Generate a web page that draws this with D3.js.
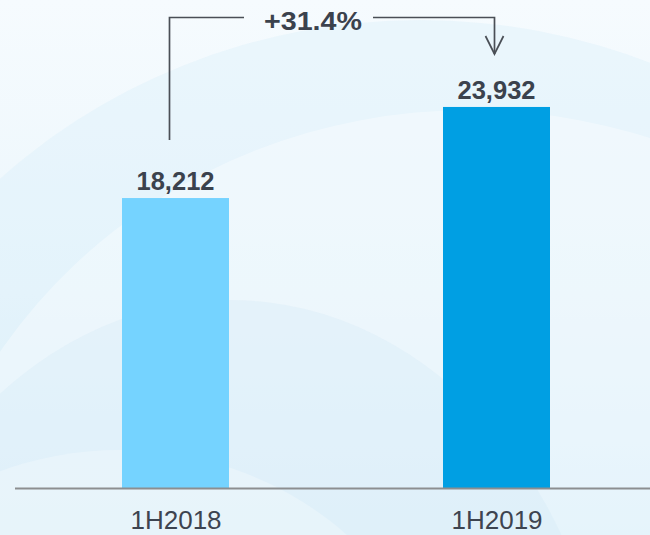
<!DOCTYPE html>
<html>
<head>
<meta charset="utf-8">
<script src="https://cdn.jsdelivr.net/npm/d3@7"></script>
<style>
  html, body { margin: 0; padding: 0; background: #eef7fc; }
  svg { display: block; }
</style>
</head>
<body>
<svg id="chart" width="650" height="535"></svg>
<script>
const categories = ["1H2018", "1H2019"];
const values = [18212, 23932];
const barColors = ["#75D3FF", "#009FE3"];
const valueLabels = ["18,212", "23,932"];
const changeLabel = "+31.4%";

const W = 650, H = 535;
const svg = d3.select("#chart");

// background
const defs = svg.append("defs");
const g = defs.append("linearGradient").attr("id", "bg").attr("x1", 0).attr("y1", 0).attr("x2", 0).attr("y2", 1);
g.append("stop").attr("offset", "0%").attr("stop-color", "#f6fbfe");
g.append("stop").attr("offset", "55%").attr("stop-color", "#ebf6fc");
g.append("stop").attr("offset", "100%").attr("stop-color", "#d9eef9");
svg.append("rect").attr("width", W).attr("height", H).attr("fill", "url(#bg)");

const bgLayer = svg.append("g");
bgLayer.append("ellipse").attr("cx", 420).attr("cy", 620).attr("rx", 620).attr("ry", 600)
  .attr("fill", "#d6eefa").attr("opacity", 0.35);
bgLayer.append("ellipse").attr("cx", 470).attr("cy", 640).attr("rx", 560).attr("ry", 530)
  .attr("fill", "#ffffff").attr("opacity", 0.35);
bgLayer.append("ellipse").attr("cx", 230).attr("cy", 760).attr("rx", 380).attr("ry", 460)
  .attr("fill", "#cfe9f6").attr("opacity", 0.3);
bgLayer.append("ellipse").attr("cx", 120).attr("cy", 760).attr("rx", 330).attr("ry", 310)
  .attr("fill", "#ffffff").attr("opacity", 0.25);

// scales
const baseY = 488;
const xc = d3.scalePoint().domain(categories).range([175.5, 496.5]);
const y = d3.scaleLinear().domain([0, 30650]).range([baseY, 0]);
const barW = 107;

// bars
svg.append("g").selectAll("rect").data(values).join("rect")
  .attr("x", (d, i) => xc(categories[i]) - barW / 2)
  .attr("y", d => y(d))
  .attr("width", barW)
  .attr("height", d => baseY - y(d))
  .attr("fill", (d, i) => barColors[i]);

// baseline
svg.append("line").attr("x1", 15).attr("x2", W).attr("y1", baseY + 0.5).attr("y2", baseY + 0.5)
  .attr("stroke", "#8c8e90").attr("stroke-width", 2);

// x axis labels
const xAxis = d3.axisBottom(xc).tickSize(0).tickPadding(0);
const ax = svg.append("g").attr("transform", `translate(0,${baseY})`).call(xAxis);
ax.select(".domain").remove();
ax.selectAll("text")
  .attr("dy", null).attr("y", 41)
  .attr("font-family", "Liberation Sans, Arial, sans-serif")
  .attr("font-size", 26).attr("fill", "#3d4450");

// value labels
svg.append("g").selectAll("text").data(values).join("text")
  .attr("x", (d, i) => xc(categories[i]))
  .attr("y", d => y(d) - 8)
  .attr("text-anchor", "middle")
  .attr("font-family", "Liberation Sans, Arial, sans-serif")
  .attr("font-weight", "bold").attr("font-size", 25.5).attr("fill", "#3b424d")
  .text((d, i) => valueLabels[i]);

// change annotation
const lineColor = "#4a4f56";
const x0 = 169.5, x1 = 494.5, topY = 17.5;
const ann = svg.append("g").attr("fill", "none").attr("stroke", lineColor).attr("stroke-width", 1.7);
ann.append("path").attr("d", `M${x0},${y(values[0]) - 58}V${topY}H244`);
ann.append("path").attr("d", `M373,${topY}H${x1}V54`);
ann.append("path").attr("d", `M${x1 - 9},36L${x1},54L${x1 + 9},36`);

svg.append("text").attr("x", 264).attr("y", 30)
  .attr("font-family", "Liberation Sans, Arial, sans-serif")
  .attr("font-weight", "bold").attr("font-size", 25).attr("fill", "#3b424d")
  .attr("textLength", 98).attr("lengthAdjust", "spacingAndGlyphs")
  .text(changeLabel);
</script>
</body>
</html>
